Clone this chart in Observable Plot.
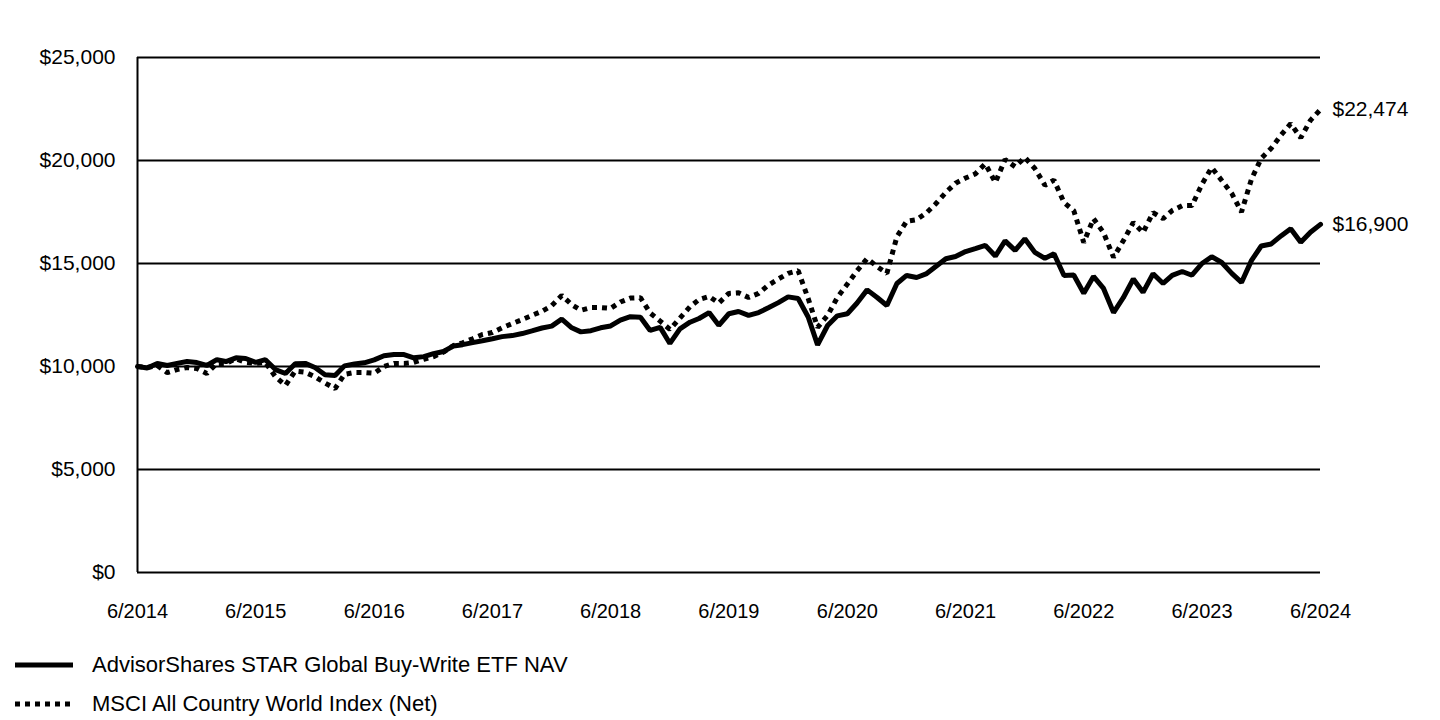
<!DOCTYPE html>
<html><head><meta charset="utf-8">
<script src="https://cdn.jsdelivr.net/npm/d3@7"></script>
<script src="https://cdn.jsdelivr.net/npm/@observablehq/plot@0.6"></script>
<style>
body{margin:0;background:#fff;font-family:"Liberation Sans",Arial,sans-serif;color:#000;}
#legend{position:relative;height:80px;width:1440px;}
.item{position:absolute;left:15px;height:30px;display:flex;align-items:center;font-size:22px;}
.item svg{margin-right:19px;}
</style></head><body>
<div id="chart"></div>
<div id="legend"></div>
<script>
const startMonth = "2014-06-01";
const seriesNames = ["AdvisorShares STAR Global Buy-Write ETF NAV", "MSCI All Country World Index (Net)"];
const navValues = [
10000,9930,10150,10050,10150,10240,10190,10050,10330,10240,10420,10390,
10200,10330,9850,9660,10130,10150,9950,9600,9560,10030,10120,10180,
10320,10520,10580,10580,10420,10480,10620,10730,11000,11060,11160,11250,
11350,11450,11500,11600,11730,11870,11960,12300,11880,11680,11740,11880,
11970,12250,12420,12390,11750,11900,11120,11830,12150,12330,12620,12000,
12560,12670,12480,12620,12850,13100,13380,13300,12400,11050,11990,12460,
12560,13080,13720,13350,12960,14030,14420,14320,14510,14850,15230,15340,
15580,15720,15880,15360,16100,15640,16200,15540,15250,15470,14420,14440,
13560,14370,13790,12620,13340,14250,13600,14500,14030,14420,14610,14430,
15000,15330,15050,14520,14080,15150,15850,15950,16350,16690,16030,16520,
16900];
const msciValues = [
10000,9950,10050,9700,9850,9950,9900,9660,10150,10150,10380,10200,
10150,10200,9500,9080,9780,9720,9500,9200,8930,9620,9710,9710,
9670,10000,10150,10150,10200,10350,10480,10700,11020,11150,11350,11550,
11650,11880,12080,12280,12480,12680,12950,13450,13000,12730,12860,12860,
12820,13130,13320,13340,12600,12200,11800,12350,12900,13250,13400,13080,
13550,13580,13350,13550,13950,14250,14520,14650,13300,11900,12480,13350,
14000,14650,15240,14850,14520,16300,17050,17130,17470,17900,18450,18900,
19150,19350,19840,18930,20050,19700,20150,19610,18800,19050,17960,17570,
16020,17180,16500,15300,16100,16990,16500,17470,17180,17570,17810,17810,
18850,19660,19030,18400,17500,19100,20100,20600,21250,21790,21100,21950,
22474];
const endLabels = ["$16,900", "$22,474"];
const yTicks = [0, 5000, 10000, 15000, 20000, 25000];
const xTickLabels = ["6/2014","6/2015","6/2016","6/2017","6/2018","6/2019","6/2020","6/2021","6/2022","6/2023","6/2024"];

const start = new Date(startMonth);
const months = navValues.map((_, i) => d3.utcMonth.offset(start, i));
const data = [
  ...navValues.map((v, i) => ({date: months[i], value: v, series: seriesNames[0]})),
  ...msciValues.map((v, i) => ({date: months[i], value: v, series: seriesNames[1]}))
];
const tickDates = xTickLabels.map(s => { const [m, y] = s.split("/"); return new Date(Date.UTC(+y, +m - 1, 1)); });
const lastPoints = [
  {date: months[months.length - 1], value: navValues[navValues.length - 1], label: endLabels[0]},
  {date: months[months.length - 1], value: msciValues[msciValues.length - 1], label: endLabels[1]}
];
const font = '"Liberation Sans", Arial, sans-serif';

const chart = Plot.plot({
  width: 1440, height: 640,
  marginTop: 57, marginBottom: 68, marginLeft: 137, marginRight: 120,
  style: {fontFamily: font, color: "#000", background: "#fff", overflow: "visible"},
  x: {type: "utc", domain: [months[0], months[months.length - 1]]},
  y: {domain: [0, 25000]},
  marks: [
    Plot.ruleY(yTicks, {stroke: "#000", strokeWidth: 2}),
    Plot.ruleX([months[0]], {stroke: "#000", strokeWidth: 2}),
    Plot.axisX({ticks: tickDates, tickFormat: (d, i) => xTickLabels[i], tickSize: 0, tickPadding: 31, fontSize: 20, label: null}),
    Plot.axisY({ticks: yTicks, tickFormat: d => "$" + d3.format(",")(d), tickSize: 0, tickPadding: 22, fontSize: 21, label: null}),
    Plot.line(data.filter(d => d.series === seriesNames[1]), {x: "date", y: "value", stroke: "#000", strokeWidth: 5, strokeDasharray: "5,5", strokeLinejoin: "miter", strokeLinecap: "butt"}),
    Plot.line(data.filter(d => d.series === seriesNames[0]), {x: "date", y: "value", stroke: "#000", strokeWidth: 5, strokeLinejoin: "miter"}),
    Plot.text(lastPoints, {x: "date", y: "value", text: "label", dx: 12, textAnchor: "start", fontSize: 21, fill: "#000"})
  ]
});
document.getElementById("chart").appendChild(chart);

const legend = document.getElementById("legend");
const tops = [10, 49];
seriesNames.forEach((name, i) => {
  const item = document.createElement("div");
  item.className = "item";
  item.style.top = tops[i] + "px";
  const dash = i === 1 ? 'stroke-dasharray="5,5"' : '';
  item.innerHTML = `<svg width="58" height="10"><line x1="0" y1="5" x2="58" y2="5" stroke="#000" stroke-width="5" ${dash}/></svg><span>${name}</span>`;
  legend.appendChild(item);
});
</script>
</body></html>
